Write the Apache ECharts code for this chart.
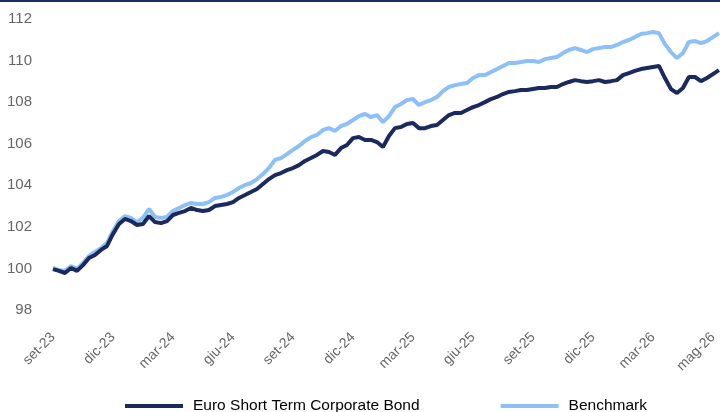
<!DOCTYPE html>
<html>
<head>
<meta charset="utf-8">
<script src="https://cdn.jsdelivr.net/npm/echarts@6/dist/echarts.min.js"></script>
<style>html,body{margin:0;padding:0;background:#fff;}#c{width:720px;height:412px;}</style>
</head>
<body>
<div id="c"></div>
<script>
const tickLabels = ['set-23','dic-23','mar-24','giu-24','set-24','dic-24','mar-25','giu-25','set-25','dic-25','mar-26','mag-26'];

const fund = [
99.97,99.88,99.78,100.02,99.88,100.16,100.50,100.65,100.89,101.08,
101.66,102.14,102.38,102.28,102.09,102.14,102.52,102.23,102.18,102.28,
102.57,102.67,102.76,102.91,102.81,102.76,102.81,103.00,103.05,103.10,
103.19,103.39,103.53,103.68,103.82,104.06,104.30,104.49,104.59,104.73,
104.83,104.97,105.17,105.31,105.46,105.65,105.60,105.46,105.79,105.94,
106.27,106.32,106.18,106.18,106.08,105.84,106.37,106.75,106.80,106.95,
107.00,106.75,106.75,106.85,106.90,107.14,107.38,107.48,107.48,107.62,
107.76,107.86,108.00,108.15,108.25,108.39,108.49,108.53,108.58,108.58,
108.63,108.68,108.68,108.73,108.73,108.87,108.97,109.06,109.01,108.97,
109.01,109.06,108.97,109.01,109.06,109.30,109.40,109.50,109.59,109.64,
109.69,109.74,109.16,108.63,108.44,108.68,109.21,109.21,109.01,109.16,
109.35,109.54
];

const benchmark = [
100.02,99.92,99.88,100.11,99.97,100.26,100.60,100.79,100.98,101.22,
101.80,102.28,102.52,102.43,102.23,102.43,102.86,102.48,102.43,102.48,
102.76,102.91,103.05,103.15,103.10,103.10,103.19,103.39,103.44,103.53,
103.68,103.87,104.01,104.11,104.30,104.54,104.83,105.22,105.31,105.50,
105.70,105.89,106.13,106.32,106.42,106.66,106.75,106.61,106.85,106.95,
107.14,107.33,107.43,107.28,107.38,107.04,107.33,107.76,107.91,108.10,
108.15,107.86,108.00,108.10,108.25,108.53,108.73,108.82,108.87,108.92,
109.16,109.30,109.30,109.45,109.59,109.74,109.88,109.88,109.93,109.98,
109.98,109.93,110.07,110.12,110.17,110.36,110.51,110.60,110.51,110.41,
110.55,110.60,110.65,110.65,110.75,110.89,110.99,111.13,111.28,111.32,
111.37,111.32,110.79,110.41,110.12,110.36,110.89,110.94,110.84,110.94,
111.13,111.32
];

const labelStep = 10;
const categories = fund.map((_, i) => (i % labelStep === 0 && tickLabels[i / labelStep]) ? tickLabels[i / labelStep] : ('p' + i));

const chart = echarts.init(document.getElementById('c'), null, {renderer: 'canvas'});
chart.setOption({
  animation: false,
  backgroundColor: '#ffffff',
  graphic: [{
    type: 'rect', left: 0, top: 0,
    shape: {width: 720, height: 2},
    style: {fill: '#1b2a5e'}
  }],
  grid: {left: 53, right: 1, top: 19, bottom: 102, containLabel: false},
  legend: {
    left: 120, top: 393,
    itemWidth: 58, itemHeight: 4, itemGap: 81,
    icon: 'rect',
    textStyle: {color: '#000', fontSize: 15.5, fontFamily: 'Liberation Sans', padding: [0, 0, 0, 5]},
    data: ['Euro Short Term Corporate Bond', 'Benchmark']
  },
  xAxis: {
    type: 'category',
    data: categories,
    boundaryGap: false,
    axisLine: {show: false},
    axisTick: {show: false},
    splitLine: {show: false},
    axisLabel: {
      interval: labelStep - 1,
      rotate: 45,
      margin: 25,
      color: '#666666',
      fontSize: 14,
      fontFamily: 'Liberation Sans',
      formatter: v => /^p\d+$/.test(v) ? '' : v
    }
  },
  yAxis: {
    type: 'value',
    min: 98, max: 112, interval: 2,
    axisLine: {show: false},
    axisTick: {show: false},
    splitLine: {show: false},
    axisLabel: {color: '#666666', fontSize: 15, fontFamily: 'Liberation Sans', margin: 21}
  },
  series: [
    {
      name: 'Euro Short Term Corporate Bond', type: 'line', data: fund,
      showSymbol: false, symbol: 'none', z: 3,
      lineStyle: {color: '#1b2a5e', width: 4},
      itemStyle: {color: '#1b2a5e'}
    },
    {
      name: 'Benchmark', type: 'line', data: benchmark,
      showSymbol: false, symbol: 'none', z: 2,
      lineStyle: {color: '#8cc0f7', width: 4},
      itemStyle: {color: '#8cc0f7'}
    }
  ]
});
</script>
</body>
</html>
